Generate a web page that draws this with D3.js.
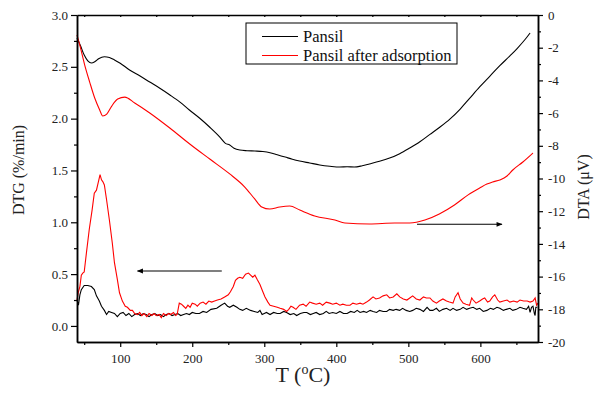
<!DOCTYPE html>
<html>
<head>
<meta charset="utf-8">
<script src="https://cdn.jsdelivr.net/npm/d3@7"></script>
<style>
  body { margin: 0; background: #fff; }
  svg text { font-family: "Liberation Serif", "Times New Roman", serif; }
</style>
</head>
<body>
<div id="chart"></div>
<script>
// Temperature ticks (°C)
const xMajor = [100, 200, 300, 400, 500, 600];
const xMinor = [50, 150, 250, 350, 450, 550, 650];
const dtgMajor = [0, 0.5, 1.0, 1.5, 2.0, 2.5, 3.0];
const dtgMinor = [0.25, 0.75, 1.25, 1.75, 2.25, 2.75];
const dtaMajor = [-20, -18, -16, -14, -12, -10, -8, -6, -4, -2, 0];
const dtaMinor = [-19, -17, -15, -13, -11, -9, -7, -5, -3, -1];

const seriesNames = ["Pansil", "Pansil after adsorption"];
const seriesColors = ["#000000", "#ff0000"];

// DTA curves (right axis), [T, µV]
const dtaPansil = [[40,-1.41],[45,-1.9],[50,-2.45],[55,-2.8],[60,-2.94],[65,-2.85],[70,-2.68],[78,-2.55],[85,-2.6],[92,-2.75],[100,-2.95],[113,-3.36],[127,-3.72],[141,-4.10],[155,-4.48],[169,-4.89],[183,-5.33],[196,-5.81],[210,-6.3],[224,-6.85],[238,-7.45],[246,-7.85],[252,-7.95],[258,-8.15],[266,-8.26],[276,-8.3],[287,-8.32],[298,-8.35],[308,-8.42],[318,-8.55],[329,-8.69],[339,-8.82],[349,-8.93],[363,-9.05],[377,-9.17],[391,-9.25],[405,-9.30],[415,-9.28],[425,-9.30],[436,-9.22],[446,-9.11],[460,-8.95],[474,-8.75],[488,-8.48],[502,-8.13],[516,-7.75],[530,-7.3],[544,-6.85],[558,-6.35],[572,-5.75],[585,-5.1],[599,-4.4],[613,-3.75],[627,-3.1],[641,-2.5],[651,-2.05],[662,-1.5],[669,-1.1]];
const dtaAdsorbed = [[40,-1.22],[43.8,-1.83],[50.7,-3.06],[57.6,-4.10],[64.6,-5.08],[71.5,-5.81],[75.7,-6.18],[81.3,-6.06],[88.2,-5.57],[96.5,-5.14],[106.3,-5.02],[120.1,-5.38],[141,-5.99],[168.8,-6.91],[196.5,-7.89],[224.3,-8.81],[252,-9.72],[272.9,-10.52],[286.7,-11.25],[296.5,-11.74],[307.6,-11.87],[321.5,-11.74],[335.4,-11.68],[349.3,-11.93],[370,-12.29],[398,-12.54],[412,-12.72],[446,-12.78],[481,-12.72],[502,-12.72],[523,-12.54],[543,-12.17],[564,-11.62],[583,-11.0],[599,-10.58],[609,-10.34],[617,-10.21],[627,-10.09],[637,-9.85],[645,-9.48],[659,-8.99],[673,-8.44]];

// DTG curves (left axis), [T, %/min]
const dtgPansil = [[40,0.25],[42,0.20],[44,0.30],[46,0.35],[50,0.39],[55,0.39],[60,0.38],[64,0.35],[67,0.29],[71,0.24],[74,0.19],[78,0.15],[81,0.11],[84,0.14],[88,0.13],[92,0.12],[96,0.09],[100,0.12],[104,0.13],[108,0.10],[112,0.12],[116,0.09],[120,0.11],[124,0.12],[128,0.10],[132,0.12],[136,0.11],[140,0.09],[144,0.11],[148,0.12],[152,0.10],[156,0.11],[160,0.09],[164,0.11],[168,0.12],[172,0.10],[176,0.11],[180,0.12],[184,0.10],[188,0.11],[192,0.12],[196,0.11],[200,0.13],[205,0.12],[210,0.12],[215,0.14],[220,0.13],[226,0.16],[234,0.17],[240,0.20],[245,0.22],[249,0.19],[252,0.18],[257,0.20],[262,0.18],[266,0.16],[270,0.15],[275,0.17],[281,0.15],[286,0.14],[291,0.13],[294,0.15],[297,0.11],[300,0.12],[303,0.13],[308,0.11],[313,0.13],[318,0.12],[322,0.12],[327,0.14],[331,0.13],[336,0.11],[341,0.12],[345,0.10],[350,0.12],[355,0.13],[359,0.13],[364,0.11],[368,0.12],[372,0.13],[377,0.11],[382,0.12],[386,0.14],[390,0.12],[395,0.13],[400,0.12],[405,0.14],[410,0.12],[415,0.12],[420,0.14],[425,0.13],[429,0.15],[433,0.13],[438,0.14],[442,0.13],[447,0.15],[451,0.14],[456,0.13],[460,0.15],[465,0.14],[470,0.14],[474,0.16],[479,0.15],[483,0.16],[488,0.15],[492,0.17],[497,0.15],[502,0.14],[506,0.15],[511,0.17],[516,0.16],[521,0.14],[526,0.18],[530,0.15],[534,0.15],[539,0.17],[543,0.14],[548,0.16],[553,0.17],[558,0.15],[562,0.17],[567,0.15],[572,0.16],[576,0.18],[581,0.16],[585,0.17],[590,0.18],[595,0.16],[599,0.17],[604,0.14],[609,0.15],[614,0.17],[618,0.16],[623,0.18],[627,0.17],[632,0.15],[636,0.16],[641,0.17],[645,0.15],[650,0.16],[655,0.18],[659,0.17],[664,0.16],[667,0.19],[669,0.13],[671,0.18],[673,0.19],[675,0.12],[676,0.10],[677,0.18],[679,0.18]];
const dtgAdsorbed = [[40,0.25],[42,0.33],[44,0.38],[46,0.49],[48,0.51],[50,0.52],[53,0.70],[57,0.93],[61,1.12],[64,1.28],[67,1.31],[70,1.40],[72,1.46],[74,1.41],[76,1.39],[78,1.36],[81,1.22],[85,1.02],[89,0.80],[92,0.61],[96,0.45],[99,0.32],[103,0.24],[107,0.19],[110,0.18],[114,0.15],[117,0.15],[120,0.12],[124,0.11],[127,0.13],[130,0.10],[133,0.12],[137,0.09],[140,0.12],[144,0.10],[147,0.12],[150,0.10],[154,0.11],[157,0.08],[160,0.12],[164,0.10],[167,0.12],[170,0.11],[174,0.13],[177,0.10],[179,0.11],[182,0.22],[185,0.21],[188,0.19],[191,0.17],[194,0.20],[197,0.18],[200,0.22],[204,0.21],[207,0.19],[211,0.22],[215,0.23],[219,0.21],[223,0.24],[227,0.23],[231,0.24],[235,0.25],[240,0.26],[245,0.28],[250,0.30],[253,0.33],[257,0.38],[260,0.44],[263,0.46],[266,0.47],[270,0.46],[274,0.50],[278,0.51],[281,0.49],[284,0.47],[287,0.49],[290,0.45],[294,0.40],[298,0.33],[301,0.28],[305,0.23],[308,0.20],[313,0.19],[318,0.18],[322,0.17],[327,0.16],[331,0.14],[334,0.16],[337,0.19],[340,0.18],[344,0.16],[349,0.20],[354,0.21],[358,0.19],[363,0.23],[367,0.22],[372,0.21],[377,0.22],[381,0.20],[386,0.23],[391,0.22],[395,0.21],[400,0.22],[405,0.20],[409,0.21],[414,0.20],[419,0.20],[423,0.22],[428,0.21],[433,0.22],[437,0.21],[442,0.23],[446,0.25],[451,0.28],[455,0.26],[460,0.27],[465,0.29],[470,0.30],[474,0.27],[479,0.28],[484,0.31],[488,0.28],[493,0.26],[498,0.25],[502,0.27],[506,0.29],[511,0.26],[516,0.25],[521,0.28],[525,0.27],[530,0.27],[534,0.24],[539,0.22],[543,0.24],[548,0.26],[553,0.24],[557,0.23],[562,0.22],[565,0.28],[569,0.32],[572,0.26],[576,0.22],[580,0.21],[585,0.20],[588,0.27],[590,0.25],[594,0.22],[599,0.24],[603,0.26],[606,0.27],[610,0.23],[613,0.24],[617,0.28],[620,0.30],[624,0.25],[627,0.23],[632,0.24],[637,0.25],[641,0.23],[646,0.24],[651,0.23],[655,0.25],[660,0.24],[665,0.24],[669,0.23],[673,0.24],[676,0.27],[678,0.20],[680,0.22]];

// Arrows telling which axis a curve belongs to: [T start, T end, value]
const arrowLeft = [241, 124, 0.53];    // DTG, points left
const arrowRight = [512, 630, -12.8];  // DTA, points right

const serif = "Liberation Serif, Times New Roman, serif";

const margin = { top: 15, right: 57, bottom: 54, left: 77 };
const width = 595 - margin.left - margin.right;
const height = 396 - margin.top - margin.bottom;

const svg = d3.select("#chart")
              .append("svg")
              .attr("width", 595)
              .attr("height", 396)
              .append("g")
              .attr("transform", `translate(${margin.left}, ${margin.top})`);

svg.append("defs").append("marker")
   .attr("id", "head")
   .attr("viewBox", "0 0 10 10")
   .attr("refX", 9).attr("refY", 5)
   .attr("markerWidth", 7).attr("markerHeight", 6)
   .attr("markerUnits", "userSpaceOnUse")
   .attr("orient", "auto")
   .append("path")
   .attr("d", "M0,1 L10,5 L0,9 Z")
   .attr("fill", "#000");

const x = d3.scaleLinear().domain([40, 680]).range([0, width]);
const yL = d3.scaleLinear().domain([-0.155, 3.0]).range([height, 0]);
const yR = d3.scaleLinear().domain([-20, 0]).range([height, 0]);

const lineL = d3.line().x(d => x(d[0])).y(d => yL(d[1]));
const lineR = d3.line().x(d => x(d[0])).y(d => yR(d[1])).curve(d3.curveMonotoneX);

// Curves
[[dtaPansil, lineR, 0], [dtaAdsorbed, lineR, 1], [dtgPansil, lineL, 0], [dtgAdsorbed, lineL, 1]].forEach(([data, gen, i]) => {
    svg.append("path")
       .datum(data)
       .attr("d", gen)
       .style("fill", "none")
       .style("stroke", seriesColors[i])
       .style("stroke-width", 1.1);
});

// Arrows
svg.append("line")
   .attr("x1", x(arrowLeft[0])).attr("x2", x(arrowLeft[1]))
   .attr("y1", yL(arrowLeft[2])).attr("y2", yL(arrowLeft[2]))
   .attr("stroke", "#000").attr("stroke-width", 1.1)
   .attr("marker-end", "url(#head)");
svg.append("line")
   .attr("x1", x(arrowRight[0])).attr("x2", x(arrowRight[1]))
   .attr("y1", yR(arrowRight[2])).attr("y2", yR(arrowRight[2]))
   .attr("stroke", "#000").attr("stroke-width", 1.1)
   .attr("marker-end", "url(#head)");

// Axes
function styleAxis(g) {
    g.attr("font-family", serif).attr("font-size", 13);
    g.select(".domain").attr("stroke-width", 1.5);
    g.selectAll(".tick line").attr("stroke-width", 1.2);
    g.selectAll("text").attr("fill", "#222");
}

svg.append("g")
   .attr("transform", `translate(0, ${height})`)
   .call(d3.axisBottom(x).tickValues(xMinor).tickSize(3).tickSizeOuter(0).tickFormat(""))
   .call(styleAxis);
svg.append("g")
   .attr("transform", `translate(0, ${height})`)
   .call(d3.axisBottom(x).tickValues(xMajor).tickSize(5).tickPadding(7).tickSizeOuter(0))
   .call(styleAxis);

svg.append("g")
   .call(d3.axisTop(x).tickValues(xMinor.concat(xMajor)).tickSize(-2).tickSizeOuter(0).tickFormat(""))
   .call(styleAxis);

svg.append("g")
   .call(d3.axisLeft(yL).tickValues(dtgMinor).tickSize(3).tickSizeOuter(0).tickFormat(""))
   .call(styleAxis);
svg.append("g")
   .call(d3.axisLeft(yL).tickValues(dtgMajor).tickSize(6).tickPadding(3).tickSizeOuter(0).tickFormat(d3.format(".1f")))
   .call(styleAxis);

svg.append("g")
   .attr("transform", `translate(${width}, 0)`)
   .call(d3.axisRight(yR).tickValues(dtaMinor).tickSize(3).tickSizeOuter(0).tickFormat(""))
   .call(styleAxis);
svg.append("g")
   .attr("transform", `translate(${width}, 0)`)
   .call(d3.axisRight(yR).tickValues(dtaMajor).tickSize(5).tickPadding(5).tickSizeOuter(0).tickFormat(d => d === 0 ? "0" : "-" + Math.abs(d)))
   .call(styleAxis);

// Axis titles
const xTitle = svg.append("text")
   .attr("x", 226)
   .attr("y", 367)
   .attr("text-anchor", "middle")
   .attr("font-family", serif)
   .style("font-size", "22px")
   .attr("fill", "#222");
xTitle.append("tspan").text("T (");
xTitle.append("tspan").attr("dy", -8).style("font-size", "14px").text("o");
xTitle.append("tspan").attr("dy", 8).text("C)");

svg.append("text")
   .attr("transform", "rotate(-90)")
   .attr("x", -155)
   .attr("y", -53)
   .attr("text-anchor", "middle")
   .attr("font-family", serif)
   .style("font-size", "16px")
   .attr("fill", "#222")
   .text("DTG (%/min)");

svg.append("text")
   .attr("transform", "rotate(-90)")
   .attr("x", -172)
   .attr("y", width + 51)
   .attr("text-anchor", "middle")
   .attr("font-family", serif)
   .style("font-size", "16px")
   .attr("fill", "#222")
   .text("DTA (\u03bcV)");

// Legend
const legend = svg.append("g").attr("transform", "translate(169, 8)");
legend.append("rect")
      .attr("width", 211).attr("height", 41)
      .attr("fill", "#fff").attr("stroke", "#000").attr("stroke-width", 1);
seriesNames.forEach((name, i) => {
    legend.append("line")
          .attr("x1", 16).attr("x2", 52)
          .attr("y1", 13.5 + i * 19).attr("y2", 13.5 + i * 19)
          .attr("stroke", seriesColors[i]).attr("stroke-width", 1.1);
    legend.append("text")
          .attr("x", 57).attr("y", 19 + i * 18.5)
          .attr("font-family", serif)
          .style("font-size", "16.5px")
          .attr("fill", "#111")
          .text(name);
});
</script>
</body>
</html>
